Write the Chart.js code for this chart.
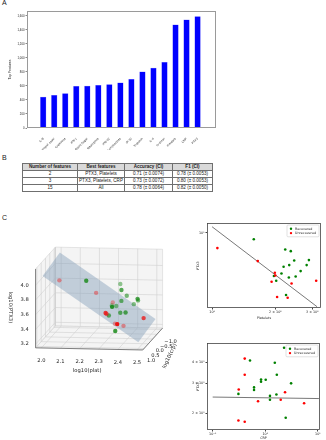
<!DOCTYPE html>
<html>
<head>
<meta charset="utf-8">
<script src="https://cdn.jsdelivr.net/npm/chart.js"></script>
<style>
  body { margin: 0; width: 326px; height: 440px; background: #fff; position: relative; overflow: hidden; }
  canvas { position: absolute; }
  .tag { position: absolute; font: 7px 'Liberation Sans', Arial, sans-serif; color: #222; }
  #tbl { position: absolute; left: 22px; top: 163px; width: 190px; border-collapse: collapse; table-layout: fixed;
         font: 4.6px 'Liberation Sans', Arial, sans-serif; color: #222; }
  #tbl td { border: 1px solid #6f6f6f; padding: 0; height: 6px; line-height: 6px; text-align: center; white-space: nowrap; overflow: hidden; }
  #tbl tr:first-child td { background: #d9d9d9; font-weight: bold; }
</style>
</head>
<body>
<div class="tag" style="left:2px;top:-1px">A</div>
<div class="tag" style="left:2px;top:154px">B</div>
<div class="tag" style="left:2px;top:214px">C</div>
<canvas id="bars" width="222" height="150" style="left:0;top:0"></canvas>
<table id="tbl">
  <colgroup><col style="width:55px"><col style="width:47px"><col style="width:48px"><col style="width:40px"></colgroup>
  <tbody></tbody>
</table>
<canvas id="cube" width="186" height="162" style="left:0;top:225px"></canvas>
<canvas id="platPlot" width="140" height="106" style="left:186px;top:215px"></canvas>
<canvas id="crpPlot" width="140" height="105" style="left:186px;top:335px"></canvas>

<script>
// ---- A: top features ----
const featureNames = ['IL-8', 'Neutrophil count', 'Creatinine', 'IFN-γ', 'Blood Sugar', 'Neutrophils', 'IFN-α2',
  'Lymphocytes', 'IP-10', 'Troponin', 'IL-6', 'D-dimer', 'Platelets', 'CRP', 'PTX3'];
const topFeatures = [443, 467, 490, 595, 600, 610, 619, 643, 695, 800, 857, 938, 1471, 1543, 1590];
const topFeaturesTicks = [0, 200, 400, 600, 800, 1000, 1200, 1400, 1600];

// ---- B: table ----
const tableHeader = ['Number of features', 'Best features', 'Accuracy (CI)', 'F1 (CI)'];
const nFeatures = ['2', '3', '15'];
const bestFeatures = ['PTX3, Platelets', 'PTX3, Platelets, CRP', 'All'];
const accuracyCI = ['0.71 (± 0.0074)', '0.73 (± 0.0072)', '0.78 (± 0.0064)'];
const f1CI = ['0.78 (± 0.0053)', '0.80 (± 0.0053)', '0.82 (± 0.0050)'];

// ---- C: platelets vs PTX3 ----
const platRecovered = [158, 223, 237, 289, 246, 233, 282, 219, 264, 214, 197, 250, 232, 202, 225];
const ptx3PlatRecovered = [8.9, 7.35, 7.14, 6.05, 6.0, 5.52, 5.52, 5.35, 4.94, 4.72, 4.51, 4.47, 4.39, 4.13, 3.18];
const platUnrecovered = [106, 165, 199, 200, 313, 192, 239, 204, 229];
const ptx3PlatUnrecovered = [7.55, 5.94, 4.79, 4.55, 4.13, 4.06, 3.93, 3.06, 3.02];
const platFit = [100, 316];
const ptx3PlatFit = [11.2, 2.56];
const platTicks = [100, 200, 300];
const platTickLabels = ['10²', '2 × 10²', '3 × 10²'];
const ptx3PlatTicks = [10];
const ptx3PlatTickLabels = ['10¹'];

// ---- C: CRP vs PTX3 ----
const crpRecovered = [2.28, 0.513, 1.52, 1.66, 0.832, 1.02, 0.832, 3.10, 0.612, 0.612, 0.309, 1.63, 1.23, 1.23, 2.45];
const ptx3CrpRecovered = [4.88, 4.10, 3.98, 3.38, 3.17, 3.16, 3.08, 3.01, 2.85, 2.75, 2.61, 2.59, 2.54, 2.41, 1.89];
const crpUnrecovered = [0.407, 0.407, 0.313, 2.38, 1.97, 0.729, 5.48, 0.309, 0.407];
const ptx3CrpUnrecovered = [4.21, 3.38, 2.77, 2.67, 2.41, 2.36, 2.30, 1.82, 1.79];
const crpFit = [0.1, 10.5];
const ptx3CrpFit = [2.50, 2.45];
const crpTicks = [0.1, 1, 10];
const crpTickLabels = ['10⁻¹', '10⁰', '10¹'];
const ptx3CrpTicks = [2, 3, 4];
const ptx3CrpTickLabels = ['2 × 10⁰', '3 × 10⁰', '4 × 10⁰'];

// ---- C: 3D (log10 values) ----
const plat3dRecovered = [2.199, 2.348, 2.375, 2.461, 2.391, 2.367, 2.450, 2.340, 2.422, 2.330, 2.294, 2.398, 2.365, 2.305, 2.352];
const crp3dRecovered = [0.358, -0.290, 0.182, 0.220, -0.080, 0.009, -0.080, 0.491, -0.213, -0.213, -0.510, 0.212, 0.090, 0.090, 0.389];
const ptx3dRecovered = [3.97, 3.85, 3.83, 3.72, 3.72, 3.66, 3.66, 3.64, 3.59, 3.56, 3.53, 3.53, 3.51, 3.47, 3.30];
const plat3dUnrecovered = [2.025, 2.217, 2.299, 2.301, 2.496, 2.283, 2.378, 2.310, 2.360];
const crp3dUnrecovered = [-0.390, -0.390, -0.504, 0.377, 0.294, -0.137, 0.739, -0.510, -0.390];
const ptx3dUnrecovered = [3.87, 3.71, 3.57, 3.54, 3.47, 3.46, 3.44, 3.28, 3.27];
const planeFit = [3.70, -1.75, -0.03];   // z = a + b*(plat-2.25) + c*crp
const plat3dTicks = [2.0, 2.1, 2.2, 2.3, 2.4, 2.5];
const crp3dTicks = [-1.0, -0.5, 0.0, 0.5, 1.0];
const ptx3dTicks = [3.2, 3.4, 3.6, 3.8, 4.0];

Chart.defaults.font.family = "'DejaVu Sans', sans-serif";
Chart.defaults.color = '#222';
Chart.defaults.animation = false;
Chart.defaults.responsive = false;
Chart.defaults.plugins.legend.display = false;
Chart.defaults.plugins.tooltip.enabled = false;

const zip = (xs, ys) => xs.map((x, i) => ({ x: x, y: ys[i] }));

// box around the plot area
function frame(color, width) {
  return {
    id: 'frame',
    afterDraw(chart) {
      const { ctx, chartArea: a } = chart;
      ctx.save();
      ctx.strokeStyle = color;
      ctx.lineWidth = width;
      ctx.strokeRect(Math.round(a.left) + 0.5, Math.round(a.top) + 0.5, Math.round(a.right - a.left) - 1, Math.round(a.bottom - a.top) - 1);
      ctx.restore();
    }
  };
}

// matplotlib-like legend inside the upper right corner
const insideLegend = {
  id: 'insideLegend',
  afterDraw(chart) {
    const { ctx, chartArea: a } = chart;
    const items = chart.data.datasets.filter(d => d.label);
    const w = 32, h = 3 + items.length * 4.4;
    const x0 = a.right - w - 2, y0 = a.top + 2;
    ctx.save();
    ctx.fillStyle = 'rgba(255,255,255,0.85)';
    ctx.strokeStyle = '#cccccc';
    ctx.lineWidth = 0.6;
    ctx.beginPath();
    ctx.roundRect(x0, y0, w, h, 1);
    ctx.fill();
    ctx.stroke();
    ctx.font = "3.3px 'DejaVu Sans'";
    ctx.textBaseline = 'middle';
    items.forEach((d, i) => {
      const cy = y0 + 3.7 + i * 4.4;
      ctx.fillStyle = d.backgroundColor;
      ctx.beginPath();
      ctx.arc(x0 + 4, cy, 1.2, 0, Math.PI * 2);
      ctx.fill();
      ctx.fillStyle = '#222';
      ctx.fillText(d.label, x0 + 8, cy);
    });
    ctx.restore();
  }
};

// ---------------- A ----------------
new Chart(document.getElementById('bars'), {
  type: 'bar',
  data: {
    datasets: [{
      data: zip(featureNames.map((n, i) => i), topFeatures),
      backgroundColor: '#0000ff',
      borderColor: '#8080ff',
      borderWidth: 0.5,
      barThickness: 5.6
    }]
  },
  options: {
    layout: { padding: { top: 11, right: 6, left: 0, bottom: 0 } },
    scales: {
      x: {
        type: 'linear', min: -0.9, max: 15.1,
        afterBuildTicks: s => { s.ticks = featureNames.map((n, i) => ({ value: i })); },
        afterFit: s => { s.height = 22; },
        grid: { display: false },
        border: { display: false },
        ticks: {
          autoSkip: false, minRotation: 45, maxRotation: 45, padding: 1,
          font: { size: 3, family: "'Liberation Sans', Arial" },
          callback: v => featureNames[v]
        }
      },
      y: {
        min: 0, max: 1670,
        afterBuildTicks: s => { s.ticks = topFeaturesTicks.map(v => ({ value: v })); },
        afterFit: s => { s.width = 27; },
        grid: { drawOnChartArea: false, tickLength: 1.5, color: '#888' },
        border: { display: false },
        ticks: { padding: 1, font: { size: 2.8, family: "'Liberation Sans', Arial" } },
        title: {
          display: true, text: 'Top Features',
          font: { size: 3.4, family: "'Liberation Sans', Arial" },
          padding: { top: 7.8, bottom: 0 }
        }
      }
    }
  },
  plugins: [frame('#9a9a9a', 1)]
});

// ---------------- B ----------------
const tbody = document.querySelector('#tbl tbody');
[tableHeader].concat(nFeatures.map((n, i) => [n, bestFeatures[i], accuracyCI[i], f1CI[i]])).forEach(row => {
  const tr = document.createElement('tr');
  row.forEach(cell => {
    const td = document.createElement('td');
    td.textContent = cell;
    tr.appendChild(td);
  });
  tbody.appendChild(tr);
});

// ---------------- C, 2D scatters ----------------
function logAxis(min, max, ticks, labels, title, fitSize, horizontal, titlePad) {
  return {
    type: 'logarithmic', min: min, max: max,
    afterBuildTicks: s => { s.ticks = ticks.map(v => ({ value: v })); },
    afterFit: s => { if (horizontal) s.height = fitSize; else s.width = fitSize; },
    grid: { drawOnChartArea: false, tickLength: 1.5, color: '#444' },
    border: { display: false },
    ticks: { autoSkip: false, maxRotation: 0, padding: 1, font: { size: 3.3 }, callback: (v, i) => labels[i] },
    title: { display: true, text: title, font: { size: 3.3 }, padding: titlePad }
  };
}

function scatterDatasets(xr, yr, xu, yu, xf, yf) {
  return [
    { label: 'Recovered', data: zip(xr, yr), backgroundColor: 'green', pointRadius: 1.3, borderWidth: 0, order: 2 },
    { label: 'Unrecovered', data: zip(xu, yu), backgroundColor: 'red', pointRadius: 1.3, borderWidth: 0, order: 1 },
    { type: 'line', data: zip(xf, yf), borderColor: '#555', borderWidth: 0.8, pointRadius: 0, order: 3 }
  ];
}

new Chart(document.getElementById('platPlot'), {
  type: 'scatter',
  data: { datasets: scatterDatasets(platRecovered, ptx3PlatRecovered, platUnrecovered, ptx3PlatUnrecovered, platFit, ptx3PlatFit) },
  options: {
    layout: { padding: { top: 8, right: 5, left: 0, bottom: 0 } },
    scales: {
      x: logAxis(94.6, 330, platTicks, platTickLabels, 'Platelets', 13, true, { top: 0, bottom: 0.6 }),
      y: logAxis(2.5, 12, ptx3PlatTicks, ptx3PlatTickLabels, 'PTX3', 21, false, { top: 10.6, bottom: 0 })
    }
  },
  plugins: [frame('#444', 0.8), insideLegend]
});

new Chart(document.getElementById('crpPlot'), {
  type: 'scatter',
  data: { datasets: scatterDatasets(crpRecovered, ptx3CrpRecovered, crpUnrecovered, ptx3CrpUnrecovered, crpFit, ptx3CrpFit) },
  options: {
    layout: { padding: { top: 8, right: 6, left: 0, bottom: 0 } },
    scales: {
      x: logAxis(0.078, 11, crpTicks, crpTickLabels, 'CRP', 10, true, { top: 0, bottom: 0 }),
      y: logAxis(1.65, 5.2, ptx3CrpTicks, ptx3CrpTickLabels, 'PTX3', 21, false, { top: 10.6, bottom: 0 })
    }
  },
  plugins: [frame('#444', 0.8), insideLegend]
});

// ---------------- C, 3D view ----------------
const P0 = 1.97, P1 = 2.53, C0 = -1.15, C1 = 1.15, Z0 = 3.15, Z1 = 4.22;
function proj(p, c, z) {
  return {
    x: 33 + (p - P0) * 200 + (C1 - c) * 9,
    y: 125 + (p - P0) * 4 - (z - Z0) * 77.5 - (C1 - c) * 10
  };
}
function segments(pairs) {
  const out = [];
  pairs.forEach(([a, b]) => { out.push(proj(...a), proj(...b), { x: NaN, y: NaN }); });
  return out;
}
const planeZ = (p, c) => planeFit[0] + planeFit[1] * (p - 2.25) + planeFit[2] * c;
const fmt = v => (v < 0 ? '−' : '') + Math.abs(v).toFixed(1);

const gridPairs = [];
plat3dTicks.forEach(t => {
  gridPairs.push([[t, C0, Z0], [t, C1, Z0]]);
  gridPairs.push([[t, C0, Z0], [t, C0, Z1]]);
});
crp3dTicks.forEach(t => {
  gridPairs.push([[P0, t, Z0], [P1, t, Z0]]);
  gridPairs.push([[P0, t, Z0], [P0, t, Z1]]);
});
ptx3dTicks.forEach(t => {
  gridPairs.push([[P0, C0, t], [P1, C0, t]]);
  gridPairs.push([[P0, C0, t], [P0, C1, t]]);
});

const panes = [
  [[P0, C0, Z0], [P1, C0, Z0], [P1, C1, Z0], [P0, C1, Z0], [P0, C0, Z0]],
  [[P0, C0, Z0], [P1, C0, Z0], [P1, C0, Z1], [P0, C0, Z1], [P0, C0, Z0]],
  [[P0, C0, Z0], [P0, C1, Z0], [P0, C1, Z1], [P0, C0, Z1], [P0, C0, Z0]]
];

const allCrp = crp3dRecovered.concat(crp3dUnrecovered);
const cMin = Math.min(...allCrp), cMax = Math.max(...allCrp);
const shade = (rgb, cs) => cs.map(c => 'rgba(' + rgb + ',' + (0.35 + 0.65 * (c - cMin) / (cMax - cMin)).toFixed(2) + ')');

const cubeDatasets = panes.map(pts => ({
  type: 'line', data: pts.map(q => proj(...q)), fill: 'shape',
  backgroundColor: 'rgba(236,236,236,0.6)', borderColor: '#d4d4d4', borderWidth: 0.6, pointRadius: 0, order: 9
}));
cubeDatasets.push({
  type: 'line', data: segments(gridPairs), borderColor: '#d0d0d0', borderWidth: 0.6, pointRadius: 0, spanGaps: false, order: 8
});
cubeDatasets.push({
  type: 'line',
  data: segments([[[P0, C1, Z0], [P1, C1, Z0]], [[P1, C1, Z0], [P1, C0, Z0]], [[P0, C1, Z0], [P0, C1, Z1]]]),
  borderColor: '#555', borderWidth: 0.7, pointRadius: 0, spanGaps: false, order: 7
});
cubeDatasets.push({
  type: 'line',
  data: [[2.0, -1], [2.5, -1], [2.5, 1], [2.0, 1]].map(([p, c]) => proj(p, c, planeZ(p, c))),
  fill: 'shape', backgroundColor: 'rgba(125,152,180,0.42)', borderWidth: 0, pointRadius: 0, order: 6
});
cubeDatasets.push({
  data: plat3dRecovered.map((p, i) => proj(p, crp3dRecovered[i], ptx3dRecovered[i])),
  backgroundColor: shade('20,135,20', crp3dRecovered), borderWidth: 0, pointRadius: 2.2, order: 2
});
cubeDatasets.push({
  data: plat3dUnrecovered.map((p, i) => proj(p, crp3dUnrecovered[i], ptx3dUnrecovered[i])),
  backgroundColor: shade('235,20,20', crp3dUnrecovered), borderWidth: 0, pointRadius: 2.2, order: 1
});

const cubeText = {
  id: 'cubeText',
  afterDatasetsDraw(chart) {
    const { ctx, scales: { x, y } } = chart;
    const put = (pt, dx, dy, text, align, rot) => {
      ctx.save();
      ctx.translate(x.getPixelForValue(pt.x) + dx, y.getPixelForValue(pt.y) + dy);
      ctx.rotate(rot || 0);
      ctx.font = "5.2px 'DejaVu Sans'";
      ctx.fillStyle = '#222';
      ctx.textAlign = align || 'center';
      ctx.textBaseline = 'middle';
      ctx.fillText(text, 0, 0);
      ctx.restore();
    };
    plat3dTicks.forEach(t => put(proj(t, C1, Z0), 0, 13, fmt(t)));
    ptx3dTicks.forEach(t => put(proj(P0, C1, t), -11, 0, fmt(t)));
    crp3dTicks.forEach(t => put(proj(P1, t, Z0), 3, 12, fmt(t), 'left'));
    put(proj(2.25, C1, Z0), -2, 22, 'log10(plat)');
    put(proj(P0, C1, 3.7), -25, 0, 'log10(PTX3)', 'center', Math.PI / 2);
    put(proj(P1, 0, Z0), 17, 17, 'log10(crp)', 'center', -1.13);
  }
};

new Chart(document.getElementById('cube'), {
  type: 'scatter',
  data: { datasets: cubeDatasets },
  options: {
    layout: { padding: 0 },
    scales: {
      x: { type: 'linear', min: 0, max: 186, display: false },
      y: { type: 'linear', min: 0, max: 162, reverse: true, display: false }
    }
  },
  plugins: [cubeText]
});
</script>
</body>
</html>
